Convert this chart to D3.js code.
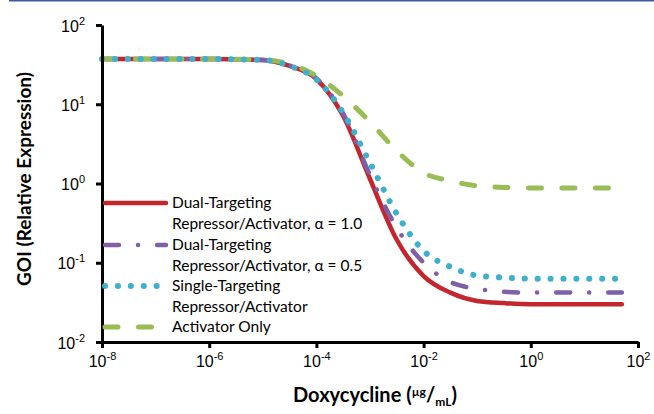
<!DOCTYPE html>
<html>
<head>
<meta charset="utf-8">
<script src="https://cdn.jsdelivr.net/npm/d3@7"></script>
<style>
  body { margin: 0; background: #fff; }
  svg { display: block; font-family: Lato, "Open Sans", sans-serif; }
</style>
</head>
<body>
<svg id="chart" width="654" height="414"></svg>
<script>
// doxycycline dose (ug/mL) and GOI relative expression
const dose = [1e-8, 1e-6, 1e-5, 3.16e-5, 1e-4, 3.16e-4, 1e-3, 3.16e-3, 1e-2, 3.16e-2, 1e-1, 3.16e-1, 1, 10, 50];
const dualA10 = [37.2, 37.2, 36.2, 30.4, 20.8, 7.1, 1.14, 0.195, 0.068, 0.042, 0.033, 0.031, 0.030, 0.030, 0.030];
const dualA05 = [37.2, 37.2, 36.2, 30.8, 21.2, 7.6, 1.28, 0.275, 0.100, 0.057, 0.047, 0.043, 0.042, 0.042, 0.042];
const single  = [37.2, 37.2, 36.2, 30.4, 20.5, 7.8, 1.82, 0.414, 0.141, 0.089, 0.069, 0.065, 0.063, 0.063, 0.063];
const actOnly = [37.2, 37.2, 36.2, 32.2, 22.7, 12.7, 5.98, 2.58, 1.36, 1.08, 0.933, 0.893, 0.88, 0.88, 0.88];

const xTicks = [1e-8, 1e-6, 1e-4, 1e-2, 1, 100];
const xExp = ["-8", "-6", "-4", "-2", "0", "2"];
const yTicks = [0.01, 0.1, 1, 10, 100];
const yExp = ["-2", "-1", "0", "1", "2"];

const series = [
  { name: ["Dual-Targeting", "Repressor/Activator, \u03b1 = 1.0"], vals: dualA10, color: "#c4262e", dash: null, w: 4.5 },
  { name: ["Dual-Targeting", "Repressor/Activator, \u03b1 = 0.5"], vals: dualA05, color: "#7f5fa6", dash: "14,19,0.1,19", w: 4.5 },
  { name: ["Activator Only"], vals: actOnly, color: "#98bd55", dash: "13,20.5", w: 5 },
  { name: ["Single-Targeting", "Repressor/Activator"], vals: single, color: "#3fb0cc", dash: "0.1,12.8", w: 6 }
];

const svg = d3.select("#chart");

// thin rule on top
svg.append("rect").attr("x", 9).attr("y", 0).attr("width", 645).attr("height", 1.5).attr("fill", "#3d5aa5");

const x = d3.scaleLog().domain([1e-8, 100]).range([102, 638]);
const y = d3.scaleLog().domain([0.01, 100]).range([342, 25]);

const line = d3.line()
  .x(d => x(d[0]))
  .y(d => y(d[1]))
  .curve(d3.curveMonotoneX);

for (let s of series) {
  svg.append("path")
    .attr("d", line(dose.map((d, i) => [d, s.vals[i]])))
    .attr("fill", "none")
    .attr("stroke", s.color)
    .attr("stroke-width", s.w)
    .attr("stroke-linecap", "round")
    .attr("stroke-dasharray", s.dash);
}

// axes
const yAxis = d3.axisLeft(y).tickValues(yTicks).tickFormat(() => "").tickSize(6).tickSizeOuter(0);
const xAxis = d3.axisBottom(x).tickValues(xTicks).tickFormat(() => "").tickSize(6).tickSizeOuter(0);

const gy = svg.append("g").attr("transform", "translate(102,0)").call(yAxis);
const gx = svg.append("g").attr("transform", "translate(0,342)").call(xAxis);
svg.selectAll(".domain, .tick line").attr("stroke", "#000").attr("stroke-width", 3);

gy.selectAll(".tick").each(function(d, i) {
  let t = d3.select(this).select("text").attr("x", -17).attr("dy", null).attr("y", 6)
    .attr("font-size", 16).attr("fill", "#000").attr("text-anchor", "end");
  t.text("10");
  t.append("tspan").attr("dy", -7).attr("font-size", 11).text(yExp[i]);
});
gx.selectAll(".tick").each(function(d, i) {
  let t = d3.select(this).select("text").attr("y", 25).attr("dy", null)
    .attr("font-size", 16).attr("fill", "#000").attr("text-anchor", "middle");
  t.text("10");
  t.append("tspan").attr("dy", -7).attr("font-size", 11).text(xExp[i]);
});

// axis titles
svg.append("text")
  .attr("transform", "translate(31,179) rotate(-90)")
  .attr("text-anchor", "middle")
  .attr("font-size", 19).attr("font-weight", "bold")
  .text("GOI (Relative Expression)");

let xt = svg.append("text")
  .attr("x", 375).attr("y", 402)
  .attr("text-anchor", "middle")
  .attr("font-size", 20).attr("font-weight", "bold");
xt.append("tspan").text("Doxycycline (");
xt.append("tspan").attr("font-size", 12).attr("dy", -6).text("\u00b5g");
xt.append("tspan").attr("dy", 6).text("/");
xt.append("tspan").attr("font-size", 12).attr("dy", 4).text("mL");
xt.append("tspan").attr("dy", -4).text(")");

// legend
const legendOrder = [series[0], series[1], series[3], series[2]];
const legRows = [203, 245, 286, 327];
const legend = svg.append("g");
legendOrder.forEach((s, i) => {
  let ly = legRows[i];
  legend.append("line")
    .attr("x1", 105).attr("x2", 166).attr("y1", ly).attr("y2", ly)
    .attr("stroke", s.color).attr("stroke-width", s.w)
    .attr("stroke-linecap", "round")
    .attr("stroke-dasharray", s.dash);
  s.name.forEach((n, j) => {
    legend.append("text")
      .attr("x", 172).attr("y", ly + 5 + j * 20.7)
      .attr("font-size", 15.5).attr("fill", "#000")
      .text(n);
  });
});
</script>
</body>
</html>
